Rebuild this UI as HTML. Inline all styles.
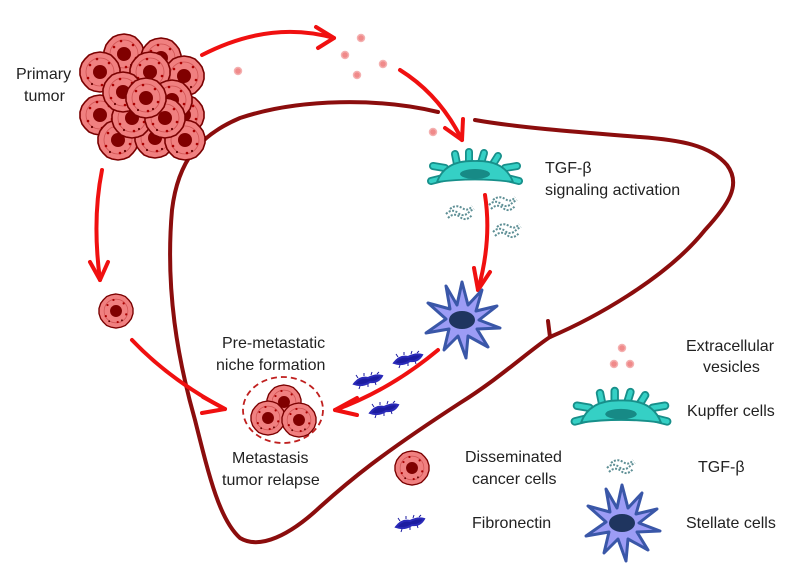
<!DOCTYPE html>
<html><head><meta charset="utf-8"><style>
html,body{margin:0;padding:0;background:#fff}
svg{display:block}
text{font-family:"Liberation Sans",sans-serif;font-size:16px;fill:#222}
</style></head><body>
<svg width="791" height="574" viewBox="0 0 791 574" xmlns="http://www.w3.org/2000/svg">
<defs>
<g id="cell">
<polygon points="0,-20 6,-19 11,-17 15,-13 18,-9 20,-3 20,3 18,9 15,13 11,17 6,19 0,20 -6,19 -11,17 -15,13 -18,9 -20,3 -20,-3 -18,-9 -15,-13 -11,-17 -6,-19" fill="#f08080" stroke="#7a0000" stroke-width="1.6"/>
<circle r="14" fill="none" stroke="#b33" stroke-width="0.8" opacity="0.6"/>
<circle r="7" fill="#800000"/>
<circle cx="-10" cy="-7" r="1.3" fill="#a00"/><circle cx="9" cy="-9" r="1.3" fill="#a00"/>
<circle cx="12" cy="4" r="1.3" fill="#a00"/><circle cx="-12" cy="6" r="1.3" fill="#a00"/>
<circle cx="2" cy="13" r="1.3" fill="#a00"/><circle cx="-3" cy="-13" r="1.3" fill="#a00"/>
<circle cx="7" cy="11" r="1.1" fill="#600"/><circle cx="-8" cy="12" r="1.1" fill="#600"/>
</g>
<g id="kup">
<g stroke="#178f8a" stroke-width="8" stroke-linecap="round" fill="none">
<path d="M-30,-4 L-42,-6"/><path d="M-32,6 L-44,9"/><path d="M30,-4 L42,-6"/><path d="M32,6 L44,9"/>
<path d="M-18,-8 L-20,-18"/><path d="M-6,-9 L-6,-20"/><path d="M6,-9 L9,-19"/><path d="M18,-8 L23,-16"/>
</g>
<g stroke="#35d0c5" stroke-width="4.5" stroke-linecap="round" fill="none">
<path d="M-30,-4 L-42,-6"/><path d="M-32,6 L-44,9"/><path d="M30,-4 L42,-6"/><path d="M32,6 L44,9"/>
<path d="M-18,-8 L-20,-18"/><path d="M-6,-9 L-6,-20"/><path d="M6,-9 L9,-19"/><path d="M18,-8 L23,-16"/>
</g>
<path d="M-38,10 Q-30,-12 0,-11 Q30,-12 38,10 Q0,5 -38,10 Z" fill="#35d0c5" stroke="#178f8a" stroke-width="1.8"/>
<ellipse cx="0" cy="2" rx="15" ry="5" fill="#178a86"/>
</g>
<g id="star">
<polygon points="0,-38 6,-15 20,-30 14,-9 35,-14 17,0 38,8 15,9 26,27 6,16 4,38 -4,16 -18,30 -13,9 -36,13 -16,-1 -34,-17 -12,-11 -16,-34 -5,-15" fill="#9c9cf5" stroke="#3a57a8" stroke-width="3" stroke-linejoin="round"/>
<ellipse cx="0" cy="0" rx="13" ry="9" fill="#1f355f"/>
</g>
<g id="tgf" fill="none" stroke="#5e8f95" stroke-width="2" stroke-dasharray="2 1.5">
<path d="M-14,2 Q-8,-4 -2,1 T10,-1 L14,-3"/><path d="M-12,6 Q-6,0 0,5 T12,3"/><path d="M-10,-3 Q-4,-8 2,-4 T12,-6"/>
</g>
<g id="fib">
<path d="M-14,4 Q-8,-4 0,-2 Q8,-6 14,-4 Q10,3 2,2 Q-6,7 -14,4 Z" fill="#1c1ca0" stroke="#2a2ab8" stroke-width="2"/>
<path d="M-10,-2 l-2,-3 M-4,-4 l0,-3 M3,-5 l1,-3 M9,-6 l2,-2 M-8,6 l-1,3 M0,4 l0,3 M7,2 l1,3" stroke="#1c1ca0" stroke-width="1"/>
</g>
</defs>

<!-- liver outline -->
<path d="M438,112 C380,98 300,98 240,118 C200,135 178,160 172,210 C165,290 178,360 195,420 C210,480 220,520 240,538 C260,550 290,535 320,507 C350,480 380,455 460,403 C500,378 530,350 550,337 C590,320 665,280 705,230 C728,205 742,185 727,165 C710,145 680,140 640,137 C590,133 520,128 475,120" fill="none" stroke="#8b0d0d" stroke-width="4" stroke-linecap="round"/>
<path d="M550,337 L548,321" fill="none" stroke="#8b0d0d" stroke-width="4" stroke-linecap="round"/>

<!-- arrows -->
<g fill="none" stroke="#f01010" stroke-width="4" stroke-linecap="round">
<path d="M202,55 Q270,20 334,38"/><path d="M334,38 L316,27 M334,38 L318,48"/>
<path d="M400,70 Q440,95 462,140"/><path d="M462,140 L445,128 M462,140 L463,119"/>
<path d="M102,170 Q92,220 100,280"/><path d="M100,280 L90,262 M100,280 L108,262"/>
<path d="M132,340 Q170,380 225,409"/><path d="M225,409 L203,397 M225,409 L202,413"/>
<path d="M485,195 Q492,240 478,290"/><path d="M478,290 L474,268 M478,290 L490,272"/>
<path d="M438,350 Q390,390 335,410"/><path d="M335,410 L357,398 M335,410 L357,415"/>
</g>

<!-- vesicles -->
<g fill="#f08a8a" stroke="#f4b0b0" stroke-width="1.5">
<circle cx="238" cy="71" r="3.5"/><circle cx="345" cy="55" r="3.5"/><circle cx="361" cy="38" r="3.5"/>
<circle cx="357" cy="75" r="3.5"/><circle cx="383" cy="64" r="3.5"/><circle cx="433" cy="132" r="3.5"/>
<circle cx="622" cy="348" r="3.5"/><circle cx="614" cy="364" r="3.5"/><circle cx="630" cy="364" r="3.5"/>
</g>

<!-- primary tumor cluster -->
<g>
<use href="#cell" x="124" y="54"/><use href="#cell" x="161" y="58"/><use href="#cell" x="100" y="72"/>
<use href="#cell" x="184" y="76"/><use href="#cell" x="150" y="72"/><use href="#cell" x="100" y="115"/>
<use href="#cell" x="184" y="115"/><use href="#cell" x="118" y="140"/><use href="#cell" x="155" y="138"/>
<use href="#cell" x="185" y="140"/><use href="#cell" x="138" y="100"/><use href="#cell" x="172" y="100"/>
<use href="#cell" x="132" y="118"/><use href="#cell" x="165" y="118"/><use href="#cell" x="123" y="92"/>
<use href="#cell" x="146" y="98"/>
</g>
<use href="#cell" transform="translate(116,311) scale(0.85)"/>

<!-- niche -->
<ellipse cx="283" cy="410" rx="40" ry="33" fill="none" stroke="#c0201f" stroke-width="1.8" stroke-dasharray="6 4"/>
<use href="#cell" transform="translate(284,402) scale(0.85)"/>
<use href="#cell" transform="translate(268,418) scale(0.85)"/>
<use href="#cell" transform="translate(299,420) scale(0.85)"/>

<use href="#kup" x="475" y="172"/>
<use href="#tgf" x="460" y="212"/><use href="#tgf" x="503" y="203"/><use href="#tgf" x="507" y="230"/>
<use href="#star" x="462" y="320"/>
<use href="#fib" x="368" y="380"/><use href="#fib" x="408" y="359"/><use href="#fib" x="384" y="409"/>

<!-- legend -->
<use href="#kup" transform="translate(621,412) scale(1.05)"/>
<use href="#tgf" x="621" y="466"/>
<use href="#star" x="622" y="523"/>
<use href="#cell" transform="translate(412,468) scale(0.85)"/>
<use href="#fib" x="410" y="523"/>

<!-- labels -->
<text x="16" y="79">Primary</text>
<text x="24" y="101">tumor</text>
<text x="545" y="173">TGF-β</text>
<text x="545" y="195">signaling activation</text>
<text x="222" y="348">Pre-metastatic</text>
<text x="216" y="370">niche formation</text>
<text x="232" y="463">Metastasis</text>
<text x="222" y="485">tumor relapse</text>
<text x="686" y="351">Extracellular</text>
<text x="703" y="372">vesicles</text>
<text x="687" y="416">Kupffer cells</text>
<text x="698" y="472">TGF-β</text>
<text x="465" y="462">Disseminated</text>
<text x="472" y="484">cancer cells</text>
<text x="472" y="528">Fibronectin</text>
<text x="686" y="528">Stellate cells</text>
</svg>
</body></html>
